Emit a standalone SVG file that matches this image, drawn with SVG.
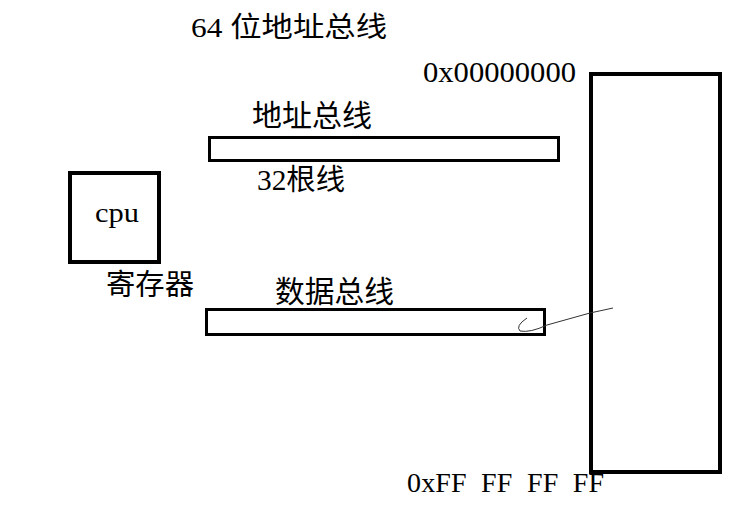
<svg xmlns="http://www.w3.org/2000/svg" width="748" height="506" viewBox="0 0 748 506">
<style>
.box{fill:#fff;stroke:#000;}
.t{font-family:"Liberation Serif","Noto Sans CJK SC",serif;fill:#000;}
</style>
<rect width="748" height="506" fill="#fff"/>
<text class="t" x="191" y="37" font-size="28" textLength="196" lengthAdjust="spacingAndGlyphs">64 位地址总线</text>
<g id="memory">
<rect class="box" x="591" y="74" width="129" height="398" stroke-width="4"/>
<text class="t" x="423" y="82" font-size="30" textLength="153" lengthAdjust="spacingAndGlyphs">0x00000000</text>
<text class="t" x="407" y="492" font-size="28" textLength="197" lengthAdjust="spacing" xml:space="preserve">0xFF  FF  FF  FF</text>
</g>
<g id="address-bus">
<rect class="box" x="209.5" y="137.5" width="349" height="23" stroke-width="3"/>
<text class="t" x="252" y="126" font-size="30" textLength="120" lengthAdjust="spacingAndGlyphs">地址总线</text>
<text class="t" x="257" y="190" font-size="29" textLength="88" lengthAdjust="spacingAndGlyphs">32根线</text>
</g>
<g id="cpu">
<rect class="box" x="70" y="173" width="89" height="89" stroke-width="4"/>
<text class="t" x="95" y="222" font-size="28" textLength="44" lengthAdjust="spacingAndGlyphs">cpu</text>
<text class="t" x="106" y="295" font-size="29" textLength="88" lengthAdjust="spacingAndGlyphs">寄存器</text>
</g>
<g id="data-bus">
<rect class="box" x="206.5" y="309.5" width="338" height="25" stroke-width="3"/>
<text class="t" x="275" y="302" font-size="30" textLength="119" lengthAdjust="spacingAndGlyphs">数据总线</text>
</g>
<g id="connectors">
<path d="M527,318 Q515,326 520,331 Q530,333 547,325 L590,313 L613,308" fill="none" stroke="#333" stroke-width="1"/>
</g>
</svg>
